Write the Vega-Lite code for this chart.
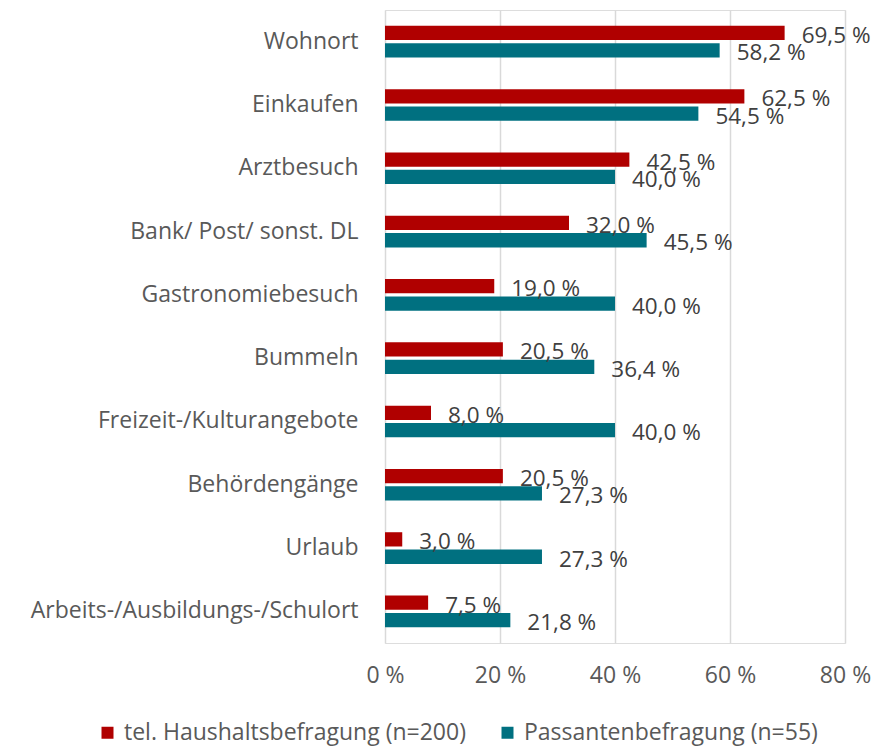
{
  "$schema": "https://vega.github.io/schema/vega-lite/v6.json",
  "autosize": {"type": "none"},
  "padding": {"left": 385, "top": 10, "right": 30, "bottom": 104},
  "width": 460,
  "height": 633,
  "background": "white",
  "data": {"values": [
    {"cat": "Wohnort", "series": "tel. Haushaltsbefragung (n=200)", "value": 69.5, "label": "69,5 %"},
    {"cat": "Wohnort", "series": "Passantenbefragung (n=55)", "value": 58.2, "label": "58,2 %"},
    {"cat": "Einkaufen", "series": "tel. Haushaltsbefragung (n=200)", "value": 62.5, "label": "62,5 %"},
    {"cat": "Einkaufen", "series": "Passantenbefragung (n=55)", "value": 54.5, "label": "54,5 %"},
    {"cat": "Arztbesuch", "series": "tel. Haushaltsbefragung (n=200)", "value": 42.5, "label": "42,5 %"},
    {"cat": "Arztbesuch", "series": "Passantenbefragung (n=55)", "value": 40.0, "label": "40,0 %"},
    {"cat": "Bank/ Post/ sonst. DL", "series": "tel. Haushaltsbefragung (n=200)", "value": 32.0, "label": "32,0 %"},
    {"cat": "Bank/ Post/ sonst. DL", "series": "Passantenbefragung (n=55)", "value": 45.5, "label": "45,5 %"},
    {"cat": "Gastronomiebesuch", "series": "tel. Haushaltsbefragung (n=200)", "value": 19.0, "label": "19,0 %"},
    {"cat": "Gastronomiebesuch", "series": "Passantenbefragung (n=55)", "value": 40.0, "label": "40,0 %"},
    {"cat": "Bummeln", "series": "tel. Haushaltsbefragung (n=200)", "value": 20.5, "label": "20,5 %"},
    {"cat": "Bummeln", "series": "Passantenbefragung (n=55)", "value": 36.4, "label": "36,4 %"},
    {"cat": "Freizeit-/Kulturangebote", "series": "tel. Haushaltsbefragung (n=200)", "value": 8.0, "label": "8,0 %"},
    {"cat": "Freizeit-/Kulturangebote", "series": "Passantenbefragung (n=55)", "value": 40.0, "label": "40,0 %"},
    {"cat": "Behördengänge", "series": "tel. Haushaltsbefragung (n=200)", "value": 20.5, "label": "20,5 %"},
    {"cat": "Behördengänge", "series": "Passantenbefragung (n=55)", "value": 27.3, "label": "27,3 %"},
    {"cat": "Urlaub", "series": "tel. Haushaltsbefragung (n=200)", "value": 3.0, "label": "3,0 %"},
    {"cat": "Urlaub", "series": "Passantenbefragung (n=55)", "value": 27.3, "label": "27,3 %"},
    {"cat": "Arbeits-/Ausbildungs-/Schulort", "series": "tel. Haushaltsbefragung (n=200)", "value": 7.5, "label": "7,5 %"},
    {"cat": "Arbeits-/Ausbildungs-/Schulort", "series": "Passantenbefragung (n=55)", "value": 21.8, "label": "21,8 %"}
  ]},
  "encoding": {
    "y": {"field": "cat", "type": "nominal", "sort": null,
      "scale": {"paddingInner": 0.5, "paddingOuter": 0.25},
      "axis": {"title": null, "domain": false, "ticks": false, "labelPadding": 27, "labelFontSize": 23, "labelColor": "#595959", "labelFont": "Open Sans", "labelLimit": 400}},
    "yOffset": {"field": "series", "type": "nominal", "sort": ["tel. Haushaltsbefragung (n=200)", "Passantenbefragung (n=55)"], "scale": {"paddingInner": 0.18}},
    "x": {"field": "value", "type": "quantitative",
      "scale": {"domain": [0, 80]},
      "axis": {"title": null, "values": [0, 20, 40, 60, 80], "labelExpr": "datum.value + ' %'", "domain": false, "ticks": false, "grid": true, "gridColor": "#d9d9d9", "gridWidth": 1.5, "labelPadding": 21, "labelFontSize": 23, "labelColor": "#595959", "labelFont": "Open Sans", "labelFlush": false}}
  },
  "layer": [
    {"mark": {"type": "bar"},
     "encoding": {
       "color": {"field": "series", "type": "nominal",
         "scale": {"domain": ["tel. Haushaltsbefragung (n=200)", "Passantenbefragung (n=55)"], "range": ["#B00000", "#007080"]},
         "legend": {"title": null, "orient": "none", "legendX": -289, "legendY": 711, "direction": "horizontal", "symbolType": "square", "symbolSize": 144, "symbolStrokeWidth": 0, "labelFontSize": 23, "labelColor": "#595959", "labelFont": "Open Sans", "labelOffset": 5, "columnPadding": 30, "labelLimit": 500}}
     }},
    {"mark": {"type": "text", "align": "left", "baseline": "middle", "dx": 17, "dy": 3, "fontSize": 22.5, "font": "Open Sans", "color": "#404040"},
     "encoding": {"text": {"field": "label"}}}
  ]
}
